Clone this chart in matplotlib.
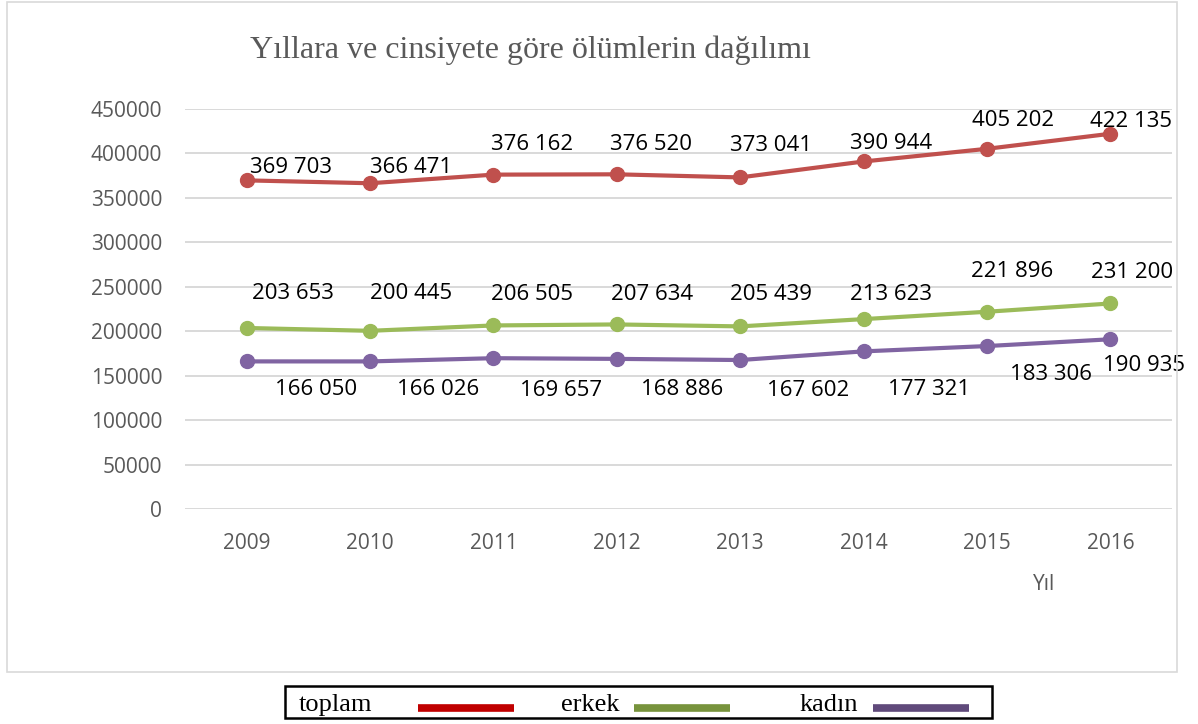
import matplotlib
matplotlib.use("Agg")
import matplotlib.pyplot as plt
from matplotlib.lines import Line2D
from matplotlib.patches import Rectangle

years = ["2009", "2010", "2011", "2012", "2013", "2014", "2015", "2016"]
toplam = [369703, 366471, 376162, 376520, 373041, 390944, 405202, 422135]
erkek = [203653, 200445, 206505, 207634, 205439, 213623, 221896, 231200]
kadin = [166050, 166026, 169657, 168886, 167602, 177321, 183306, 190935]

# label offsets in pixels (dx, dy) relative to each point
toplam_off = [(44, 13), (41, 16), (39, 30), (34, 30), (31, 32), (27, 18), (26, 28), (21, 12)]
erkek_off = [(46, 34), (41, 37), (39, 31), (35, 30), (31, 32), (27, 25), (25, 40), (22, 31)]
kadin_off = [(69, -28), (68, -28), (68, -32), (65, -31), (68, -30), (66, -38), (64, -28), (34, -26)]

W, H, DPI = 1198, 724, 100
fig = plt.figure(figsize=(W / DPI, H / DPI), dpi=DPI)


def fx(px):
    return px / W


def fy(py):
    return 1 - py / H


# outer chart border
fig.patches.append(Rectangle((fx(7), fy(672)), fx(1177) - fx(7), fy(2) - fy(672), transform=fig.transFigure,
                             fill=False, edgecolor="#d9d9d9", linewidth=1.2))

ax = fig.add_axes([fx(185), fy(509), fx(1172) - fx(185), fy(109) - fy(509)])
x = list(range(len(years)))

series = [
    (toplam, "#C0504D", toplam_off),
    (erkek, "#9BBB59", erkek_off),
    (kadin, "#8064A2", kadin_off),
]
for vals, col, offs in series:
    ax.plot(x, vals, color=col, linewidth=3, marker="o", markersize=10, zorder=3, solid_capstyle="round")
    for xi, v, (dx, dy) in zip(x, vals, offs):
        lbl = f"{v:,}".replace(",", " ")
        ax.annotate(lbl, xy=(xi, v), textcoords="offset pixels", xytext=(dx, dy),
                    ha="center", va="center", fontsize=16, color="black", family="Open Sans")

ax.set_xlim(-0.5, 7.5)
ax.set_ylim(0, 450000)
ax.set_yticks(range(0, 450001, 50000))
ax.set_yticklabels([str(v) for v in range(0, 450001, 50000)])
ax.set_xticks(x)
ax.set_xticklabels(years)
ax.tick_params(axis="both", length=0, labelsize=15, labelcolor="#595959")
ax.tick_params(axis="x", pad=17)
ax.tick_params(axis="y", pad=16.5)
for lbl in ax.get_xticklabels() + ax.get_yticklabels():
    lbl.set_family("Open Sans")
ax.grid(axis="y", color="#d9d9d9", linewidth=1.4)
ax.set_axisbelow(True)
for s in ax.spines.values():
    s.set_visible(False)

fig.text(fx(530), fy(58), "Yıllara ve cinsiyete göre ölümlerin dağılımı", ha="center", va="baseline",
         fontsize=23, color="#595959", family="Liberation Serif")
fig.text(fx(1044), fy(584), "Yıl", ha="center", va="center", fontsize=15, color="#595959",
         family="Open Sans")

# legend box below the chart
fig.patches.append(Rectangle((fx(285), fy(718)), fx(992) - fx(285), fy(686) - fy(718),
                             transform=fig.transFigure, fill=False, edgecolor="black", linewidth=1.8))
legend_items = [
    ("toplam", "#C00000", 299, 418, 514),
    ("erkek", "#77933C", 561, 634, 730),
    ("kadın", "#604A7B", 800, 873, 969),
]
for name, col, tx, l0, l1 in legend_items:
    fig.text(fx(tx), fy(711), name, ha="left", va="baseline", fontsize=19, color="black",
             family="Liberation Serif")
    fig.add_artist(Line2D([fx(l0), fx(l1)], [fy(708), fy(708)], transform=fig.transFigure,
                          color=col, linewidth=5.5, solid_capstyle="butt"))

fig.savefig("out.png", dpi=DPI)
